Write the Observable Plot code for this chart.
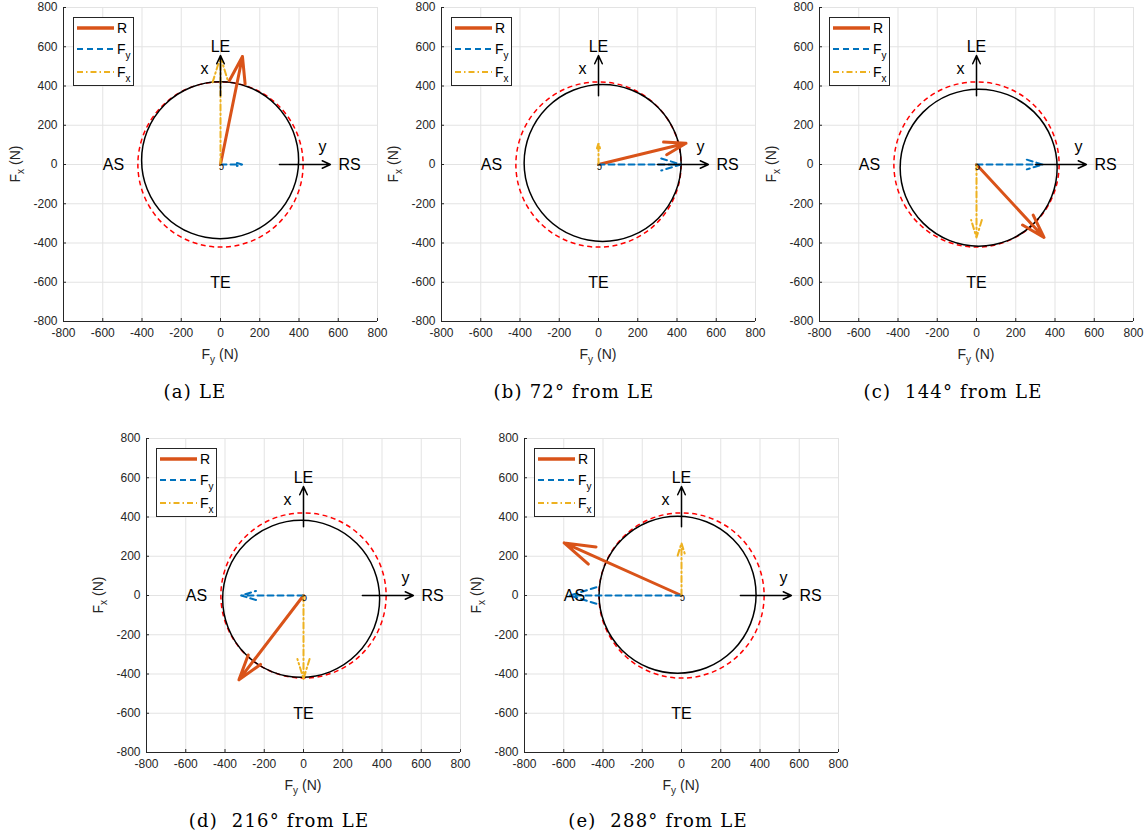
<!DOCTYPE html>
<html><head><meta charset="utf-8">
<script src="https://cdn.jsdelivr.net/npm/d3@7"></script>
<script src="https://cdn.jsdelivr.net/npm/@observablehq/plot@0.6"></script>
<style>
html,body{margin:0;padding:0;background:#fff}
#figure{position:relative;width:1148px;height:838px;overflow:hidden;font-family:"Liberation Sans",Arial,Helvetica,sans-serif}
.panel{position:absolute;width:390px;height:380px}
.caption{position:absolute;transform:translate(-50%,-50%);font-family:"DejaVu Serif","Liberation Serif",serif;font-size:18px;letter-spacing:1.2px;white-space:pre;color:#000;line-height:1}
.legend{position:absolute;width:61px;height:69px;box-sizing:border-box;border:1px solid #262626;background:#fff}
.legend svg{position:absolute;left:0;top:0;overflow:visible}
</style></head><body><div id="figure"></div>
<script>
// ---------------- data ----------------
const panelIds = ["a", "b", "c", "d", "e"];
const captions = ["(a) LE", "(b) 72° from LE", "(c)  144° from LE", "(d)  216° from LE", "(e)  288° from LE"];
// resultant force R (components in N): horizontal = F_y, vertical = F_x
const resultantFy = [112, 446, 344, -329, -598];
const resultantFx = [550, 108, -372, -430, 268];
// component arrows
const componentFy = [110, 420, 337, -318, -570];
const componentFx = [550, 108, -372, -425, 267];
// measured contour (black circle): centre and radius in N
const contourFy = [-2, 21, 11, -12, -20];
const contourFx = [22, 8, -16, -17, 4];
const contourR = [400, 400, 400, 400, 400];
// reference envelope (red dashed circle)
const envelopeFy = [0, 0, 0, 0, 0];
const envelopeFx = [0, 0, 0, 0, 0];
const envelopeR = [421, 421, 421, 421, 421];
// axis ticks
const tickValues = [-800, -600, -400, -200, 0, 200, 400, 600, 800];
// annotation labels and their positions (N)
const landmarkLabels = ["LE", "TE", "AS", "RS", "x", "y"];
const landmarkFy = [0, 0, -545, 658, -82, 520];
const landmarkFx = [600, -605, 0, 0, 489, 92];
// body axes arrows
const bodyAxisFy1 = [0, 300];
const bodyAxisFx1 = [350, 0];
const bodyAxisFy2 = [0, 560];
const bodyAxisFx2 = [555, 0];
const origin = [0];

// ---------------- layout / style ----------------
const frameLeft = [63, 441, 819, 146, 524];
const frameTop = [7, 7, 7, 438, 438];
const captionX = [195, 574, 953, 279, 658];
const captionY = [392, 392, 392, 821, 821];
const ML = 63, MT = 7, MR = 13, MB = 59, INNER = 314;
const W = ML + INNER + MR, H = MT + INNER + MB;
const pxPerN = INNER / 1600;
const colR = "#D95319", colFy = "#0072BD", colFx = "#EDB120";
const dashFy = "6,4", dashFx = "6,3,1.5,3";
const headFrac = 0.25;
const headLen = (fy, fx, sw) => headFrac * Math.hypot(fy, fx) * pxPerN * 1.5 / sw;

const fig = document.getElementById("figure");

panelIds.forEach((id, i) => {
  const sel = [i];
  const plot = Plot.plot({
    width: W, height: H,
    marginLeft: ML, marginTop: MT, marginRight: MR, marginBottom: MB,
    style: {background: "transparent", fontFamily: '"Liberation Sans", Arial, Helvetica, sans-serif', color: "#262626", overflow: "visible"},
    x: {domain: [-800, 800], label: null},
    y: {domain: [-800, 800], label: null},
    r: {type: "linear", domain: [0, 800], range: [0, INNER / 2]},
    marks: [
      Plot.gridX(tickValues, {stroke: "#e3e3e3", strokeOpacity: 1}),
      Plot.gridY(tickValues, {stroke: "#e3e3e3", strokeOpacity: 1}),
      Plot.ruleX([-800], {stroke: "#262626"}),
      Plot.ruleY([-800], {stroke: "#262626"}),
      Plot.axisX(tickValues, {tickSize: -3, tickPadding: 10, tickFormat: d => String(d), label: null, fontSize: 12}),
      Plot.axisY(tickValues, {tickSize: -3, tickPadding: 9, tickFormat: d => String(d), label: null, fontSize: 12}),
      Plot.dot(sel, {x: j => envelopeFy[j], y: j => envelopeFx[j], r: j => envelopeR[j], stroke: "#FF0000", strokeWidth: 1.5, strokeDasharray: "5,3.5", fill: "none"}),
      Plot.dot(sel, {x: j => contourFy[j], y: j => contourFx[j], r: j => contourR[j], stroke: "#000", strokeWidth: 1.5, fill: "none"}),
      Plot.arrow(sel, {x1: () => 0, y1: () => 0, x2: j => resultantFy[j], y2: j => resultantFx[j],
        stroke: colR, strokeWidth: 3, headAngle: 34, headLength: headLen(resultantFy[i], resultantFx[i], 3)}),
      Plot.arrow(sel, {x1: () => 0, y1: () => 0, x2: j => componentFy[j], y2: () => 0,
        stroke: colFy, strokeWidth: 2, strokeDasharray: dashFy, headAngle: 34, headLength: headLen(componentFy[i], 0, 2)}),
      Plot.arrow(sel, {x1: () => 0, y1: () => 0, x2: () => 0, y2: j => componentFx[j],
        stroke: colFx, strokeWidth: 2, strokeDasharray: dashFx, headAngle: 34, headLength: headLen(0, componentFx[i], 2)}),
      Plot.text(origin, {x: d => d, y: d => d, text: () => "ɔ", fontSize: 10, dx: 1, dy: 2, fill: "#000"}),
      Plot.arrow([0, 1], {x1: k => bodyAxisFy1[k], y1: k => bodyAxisFx1[k], x2: k => bodyAxisFy2[k], y2: k => bodyAxisFx2[k],
        stroke: "#000", strokeWidth: 1.5, headAngle: 50, headLength: 9}),
      Plot.text(landmarkLabels, {x: (d, k) => landmarkFy[k], y: (d, k) => landmarkFx[k], text: d => d, fontSize: 16, fill: "#000"})
    ]
  });
  const svg = d3.select(plot);
  // axis titles with subscripts
  svg.append("text")
    .attr("x", ML + INNER / 2).attr("y", MT + INNER + 38)
    .attr("text-anchor", "middle").attr("font-size", 14).attr("fill", "#262626")
    .html('F<tspan dy="4" font-size="10">y</tspan><tspan dy="-4"> (N)</tspan>');
  svg.append("text")
    .attr("transform", `translate(20,${MT + INNER / 2}) rotate(-90)`)
    .attr("text-anchor", "middle").attr("font-size", 14).attr("fill", "#262626")
    .html('F<tspan dy="4" font-size="10">x</tspan><tspan dy="-4"> (N)</tspan>');

  const wrap = document.createElement("div");
  wrap.className = "panel";
  wrap.style.left = (frameLeft[i] - ML) + "px";
  wrap.style.top = (frameTop[i] - MT) + "px";
  wrap.appendChild(plot);
  fig.appendChild(wrap);

  // legend
  const leg = document.createElement("div");
  leg.className = "legend";
  leg.style.left = (frameLeft[i] + 10) + "px";
  leg.style.top = (frameTop[i] + 10) + "px";
  leg.innerHTML = `<svg width="61" height="69" font-family="Liberation Sans, Arial, sans-serif" font-size="14">
    <line x1="3" x2="40" y1="10" y2="10" stroke="${colR}" stroke-width="3.5"/>
    <text x="43" y="15">R</text>
    <line x1="3" x2="40" y1="31" y2="31" stroke="${colFy}" stroke-width="2" stroke-dasharray="${dashFy}"/>
    <text x="43" y="36">F<tspan dy="5" font-size="10">y</tspan></text>
    <line x1="3" x2="40" y1="54" y2="54" stroke="${colFx}" stroke-width="2" stroke-dasharray="${dashFx}"/>
    <text x="43" y="59">F<tspan dy="5" font-size="10">x</tspan></text>
  </svg>`;
  fig.appendChild(leg);

  const cap = document.createElement("div");
  cap.className = "caption";
  cap.style.left = captionX[i] + "px";
  cap.style.top = captionY[i] + "px";
  cap.textContent = captions[i];
  fig.appendChild(cap);
});
</script></body></html>
